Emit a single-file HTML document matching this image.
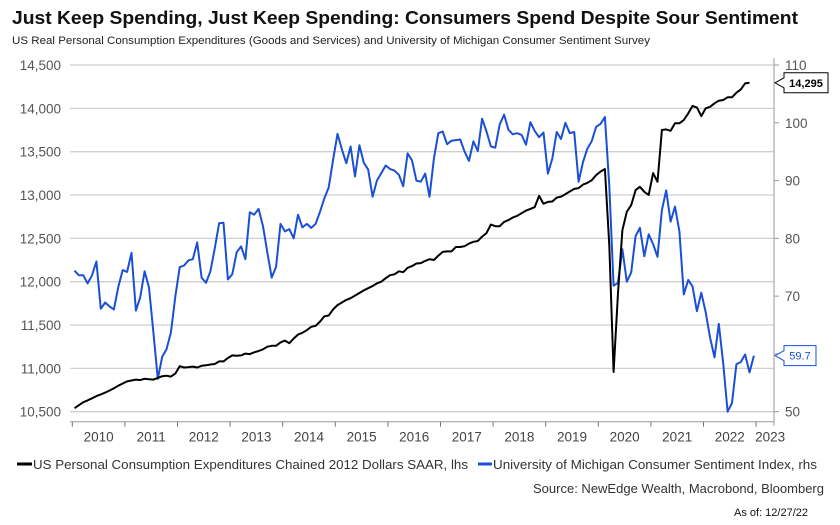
<!DOCTYPE html>
<html><head><meta charset="utf-8"><style>
body{margin:0;background:#fff;width:840px;height:520px;overflow:hidden;font-family:"Liberation Sans",Arial,sans-serif}
</style></head><body>
<svg id="chart" width="840" height="520" viewBox="0 0 840 520" xmlns="http://www.w3.org/2000/svg" font-family="Liberation Sans, Arial, sans-serif">
<text x="12" y="24" font-size="18.5" font-weight="bold" fill="#111" textLength="786" lengthAdjust="spacingAndGlyphs">Just Keep Spending, Just Keep Spending: Consumers Spend Despite Sour Sentiment</text>
<text x="12" y="44" font-size="11" fill="#222" textLength="638" lengthAdjust="spacingAndGlyphs">US Real Personal Consumption Expenditures (Goods and Services) and University of Michigan Consumer Sentiment Survey</text>
<g id="grid"></g><g id="axes"></g><g id="series"></g>
<g>
<line x1="17" y1="464" x2="32" y2="464" stroke="#000" stroke-width="3"/>
<text x="33" y="469" font-size="13" fill="#333" textLength="435" lengthAdjust="spacingAndGlyphs">US Personal Consumption Expenditures Chained 2012 Dollars SAAR, lhs</text>
<line x1="478" y1="464" x2="492" y2="464" stroke="#1a4fd6" stroke-width="3"/>
<text x="493" y="469" font-size="13" fill="#333" textLength="324" lengthAdjust="spacingAndGlyphs">University of Michigan Consumer Sentiment Index, rhs</text>
</g>
<text x="824" y="493" font-size="13" fill="#333" text-anchor="end">Source: NewEdge Wealth, Macrobond, Bloomberg</text>
<text x="808" y="516" font-size="11" fill="#111" text-anchor="end">As of: 12/27/22</text>
</svg>
<script>
const years=["2010","2011","2012","2013","2014","2015","2016","2017","2018","2019","2020","2021","2022","2023"];
const leftTicks=[10500,11000,11500,12000,12500,13000,13500,14000,14500];
const rightTicks=[50,60,70,80,90,100,110];
const pce=[10540,10575,10610,10630,10655,10680,10700,10720,10745,10770,10800,10825,
10850,10860,10870,10865,10880,10875,10870,10890,10910,10915,10905,10940,
11025,11010,11015,11020,11010,11030,11035,11045,11050,11080,11080,11120,
11150,11145,11150,11170,11165,11185,11200,11220,11250,11260,11260,11300,
11320,11290,11345,11390,11410,11440,11480,11490,11540,11600,11610,11680,
11730,11760,11790,11810,11840,11870,11900,11925,11950,11980,12000,12040,
12075,12085,12120,12110,12160,12180,12210,12215,12240,12260,12250,12300,
12344,12350,12350,12400,12400,12410,12440,12460,12470,12520,12560,12660,
12640,12640,12690,12710,12740,12760,12790,12820,12840,12860,12990,12900,
12920,12925,12970,12980,13010,13040,13070,13080,13120,13140,13170,13230,
13270,13300,12420,10958,11870,12595,12806,12884,13057,13095,13037,13000,
13253,13152,13750,13757,13741,13827,13827,13865,13942,14027,14011,13911,
14000,14018,14058,14088,14096,14127,14127,14180,14219,14288,14295];
const sentiment=[74.4,73.6,73.6,72.2,73.6,76.0,67.8,68.9,68.2,67.7,71.6,74.5,
74.2,77.5,67.5,69.8,74.3,71.5,63.7,55.7,59.5,60.8,63.7,69.9,
75.0,75.3,76.2,76.4,79.3,73.2,72.3,74.3,78.3,82.6,82.7,72.9,
73.8,77.6,78.6,76.4,84.5,84.1,85.1,82.1,77.5,73.2,75.1,82.5,
81.2,81.6,80.0,84.1,81.9,82.5,81.8,82.5,84.6,86.9,88.8,93.6,
98.1,95.4,93.0,95.9,90.7,96.1,93.1,91.9,87.2,90.0,91.3,92.6,
92.0,91.7,91.0,89.0,94.7,93.5,90.0,89.8,91.2,87.2,93.8,98.2,
98.5,96.3,96.9,97.0,97.1,95.0,93.4,96.8,95.1,100.7,98.5,95.9,
95.7,99.7,101.4,98.8,98.0,98.2,97.9,96.2,100.1,98.6,97.5,98.3,
91.2,93.8,98.4,97.2,100.0,98.2,98.4,89.8,93.2,95.5,96.8,99.3,
99.8,101.0,89.1,71.8,72.3,78.1,72.5,74.1,80.4,81.8,76.9,80.7,
79.0,76.8,84.9,88.3,82.9,85.5,81.2,70.3,72.8,71.7,67.4,70.6,
67.2,62.8,59.4,65.2,58.4,50.0,51.5,58.2,58.6,59.9,56.8,59.7];
const NS="http://www.w3.org/2000/svg";
const X0=72.3,YW=52.6,PL=70,PR=774,PT=65,PB=411.7,AX=421.7;
const xm=i=>X0+(i+0.5)*YW/12;
const yL=v=>PT+(14500-v)/4000*(PB-PT);
const yR=v=>PT+(110-v)/60*(PB-PT);
function mk(tag,attrs,parent){const e=document.createElementNS(NS,tag);for(const k in attrs)e.setAttribute(k,attrs[k]);parent.appendChild(e);return e;}
const grid=document.getElementById('grid'),axes=document.getElementById('axes'),ser=document.getElementById('series');
leftTicks.forEach(v=>{
 const l=mk('line',{x1:PL,x2:PR,y1:yL(v),y2:yL(v),stroke:'#cfcfcf','stroke-width':1.3},grid);
 
 
 const t=mk('text',{x:61,y:yL(v)+5,'font-size':13.5,fill:'#555','text-anchor':'end'},axes);
 t.textContent=v.toLocaleString('en-US');
 
 
});
rightTicks.forEach(v=>{
 mk('line',{x1:PR,x2:PR+5,y1:yR(v),y2:yR(v),stroke:'#999'},axes);
 const t=mk('text',{x:785,y:yR(v)+5,'font-size':13.5,fill:'#555'},axes);
 t.textContent=v;
 
 
});
mk('line',{x1:PR,x2:PR,y1:58,y2:AX+4,stroke:'#999'},axes);
mk('line',{x1:PL,x2:PR,y1:AX,y2:AX,stroke:'#999'},axes);
years.forEach((y,i)=>{
 const x=X0+i*YW;
 mk('line',{x1:x,x2:x,y1:AX,y2:AX+5,stroke:'#777'},axes);
 const t=mk('text',{x:i==13?x+14:x+YW/2,y:AX+20,'font-size':13.5,fill:'#444','text-anchor':'middle'},axes);
 t.textContent=y;
 
 
});
const p1=mk('polyline',{points:sentiment.map((v,i)=>xm(i).toFixed(1)+','+yR(v).toFixed(1)).join(' '),fill:'none',stroke:'#1a4fd6','stroke-width':2,'stroke-linejoin':'round'},ser);


const p2=mk('polyline',{points:pce.map((v,i)=>xm(i).toFixed(1)+','+yL(v).toFixed(1)).join(' '),fill:'none',stroke:'#000','stroke-width':2,'stroke-linejoin':'round'},ser);


function tag(val,y,col,w,bold,name){
 const g=mk('g',{},axes);
 
 
 mk('path',{d:`M775,${y} L784,${y-5} L784,${y-10} L${784+w},${y-10} L${784+w},${y+10} L784,${y+10} L784,${y+5} Z`,fill:'#fff',stroke:col,'stroke-width':1},g);
 const t=mk('text',{x:784+w/2,y:y+4,'font-size':11,fill:col,'text-anchor':'middle','font-weight':bold?'bold':'normal'},g);
 t.textContent=val;
}
tag(pce[pce.length-1].toLocaleString('en-US'),yL(pce[pce.length-1]),'#000',44,true,'pce-last-value-tag');
tag(sentiment[sentiment.length-1].toFixed(1),yR(sentiment[sentiment.length-1]),'#1a4fd6',32,false,'sentiment-last-value-tag');
</script>
</body></html>
